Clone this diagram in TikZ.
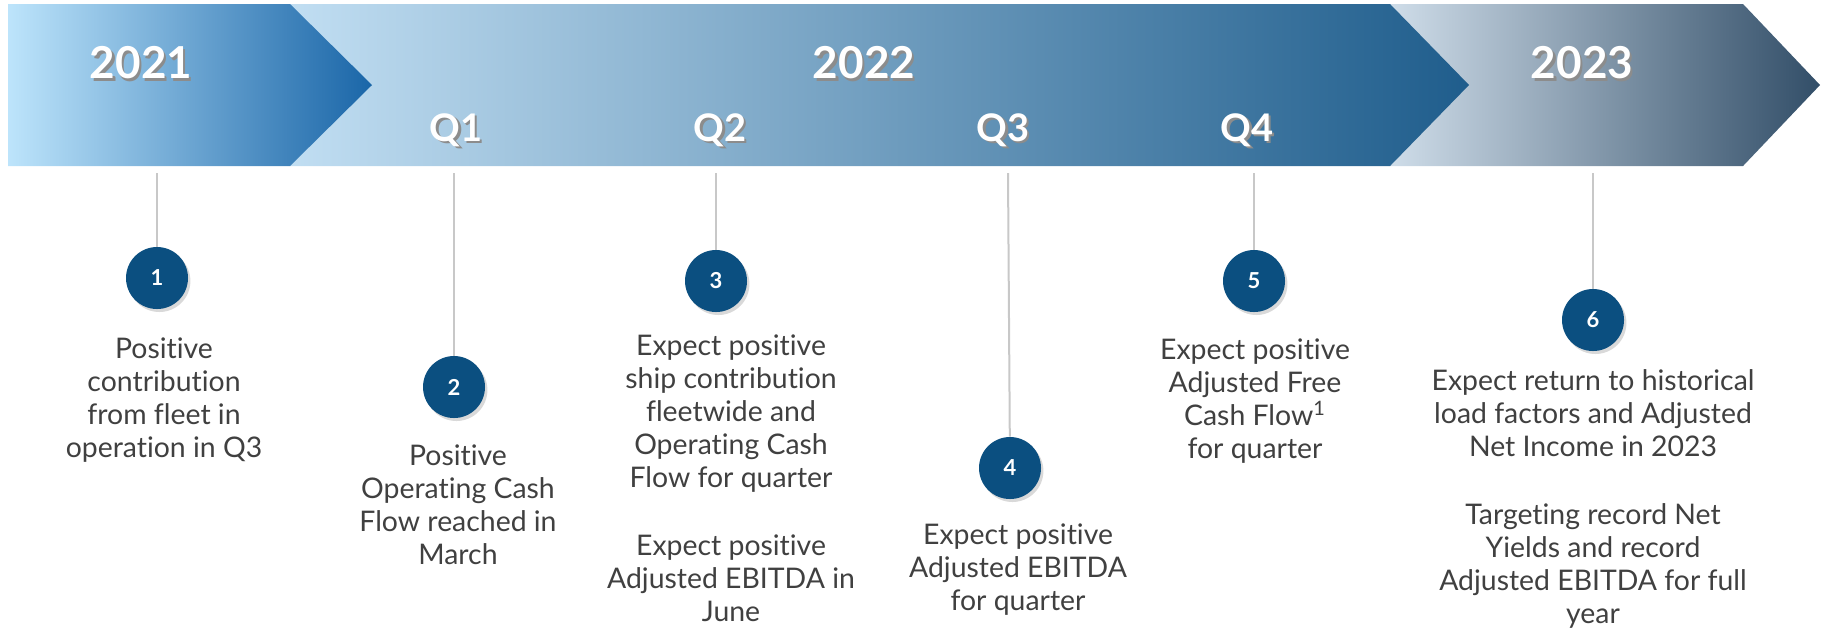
\documentclass[tikz,border=0pt]{standalone}
\usepackage{fontspec}
\setmainfont{Lato}[Ligatures=NoCommon]
\usepackage{tikz}
\usetikzlibrary{shadows}
\definecolor{badgeblue}{HTML}{0B4F80}
\definecolor{notegray}{HTML}{404040}
\definecolor{stemgray}{HTML}{C8C8C8}
\definecolor{ya}{HTML}{BDE4FB}
\definecolor{yb}{HTML}{1A66A8}
\definecolor{yc}{HTML}{C1DEF2}
\definecolor{yd}{HTML}{1F5D8C}
\definecolor{ye}{HTML}{CFDDE9}
\definecolor{yf}{HTML}{324E68}

% white heading text with a soft offset shadow
\newcommand{\shtext}[1]{\rlap{\kern1.2pt\raisebox{-1.2pt}{\textcolor{black!45}{#1}}}#1}

\begin{document}
\begin{tikzpicture}[x=0.5pt, y=-0.5pt,
    yearlabel/.style={text=white, inner sep=0pt, font=\fontsize{22}{26}\selectfont\bfseries},
    qlabel/.style={text=white, inner sep=0pt, font=\fontsize{19}{22}\selectfont\bfseries},
    badge/.style={circle, fill=badgeblue, text=white, minimum size=31pt, inner sep=0pt,
        font=\fontsize{11}{13}\selectfont\bfseries,
        drop shadow={shadow xshift=1.2pt, shadow yshift=-1.5pt, opacity=0.3}},
    note/.style={anchor=north, align=center, inner sep=0pt, text=notegray,
        font=\fontsize{14.2}{16.6}\selectfont},
    stem/.style={draw=stemgray, line width=1pt}]
    \useasboundingbox (0,0) rectangle (1834,629);

    % Band for 2023 (under the 2022 tip)
    \shade[left color=ye, right color=yf] (1390,4) -- (1743,4) -- (1820,85) -- (1743,166) -- (1390,166) -- cycle;
    % Band for 2022
    \shade[left color=yc, right color=yd] (290,4) -- (1390,4) -- (1469,85) -- (1390,166) -- (290,166) -- cycle;
    % Chevron for 2021
    \shade[left color=ya, right color=yb] (8,4) -- (290,4) -- (372,85) -- (290,166) -- (8,166) -- cycle;

    % Years and quarters
    \node[yearlabel] (y2021) at (141,64) {\shtext{2021}};
    \node[yearlabel] (y2022) at (864,64) {\shtext{2022}};
    \node[yearlabel] (y2023) at (1582,64) {\shtext{2023}};
    \node[qlabel] (q1) at (456,131) {\shtext{Q1}};
    \node[qlabel] (q2) at (720,131) {\shtext{Q2}};
    \node[qlabel] (q3) at (1003,131) {\shtext{Q3}};
    \node[qlabel] (q4) at (1247,131) {\shtext{Q4}};

    % Stems hanging from the band
    \coordinate (t1) at (157,173);
    \coordinate (t2) at (454,173);
    \coordinate (t3) at (716,173);
    \coordinate (t4) at (1008,173);
    \coordinate (t5) at (1254,173);
    \coordinate (t6) at (1593,173);

    % Numbered badges
    \node[badge] (c1) at (157,278) {1};
    \node[badge] (c2) at (454,387) {2};
    \node[badge] (c3) at (716,281) {3};
    \node[badge] (c4) at (1010,468) {4};
    \node[badge] (c5) at (1254,281) {5};
    \node[badge] (c6) at (1593,320) {6};

    \foreach \i in {1,...,6}
        \draw[stem] (t\i) -- (c\i);

    % Milestone notes
    \node[note] (n1) at (164,337) {Positive\\contribution\\from fleet in\\operation in Q3};
    \node[note] (n2) at (458,444) {Positive\\Operating Cash\\Flow reached in\\March};
    \node[note] (n3) at (731,334) {Expect positive\\ship contribution\\fleetwide and\\Operating Cash\\Flow for quarter};
    \node[note] (n3b) at (731,534) {Expect positive\\Adjusted EBITDA in\\June};
    \node[note] (n4) at (1018,523) {Expect positive\\Adjusted EBITDA\\for quarter};
    \node[note] (n5) at (1255,338) {Expect positive\\Adjusted Free\\Cash Flow\textsuperscript{1}\\for quarter};
    \node[note] (n6) at (1593,369) {Expect return to historical\\load factors and Adjusted\\Net Income in 2023};
    \node[note] (n6b) at (1593,503) {Targeting record Net\\Yields and record\\Adjusted EBITDA for full\\year};
\end{tikzpicture}
\end{document}
